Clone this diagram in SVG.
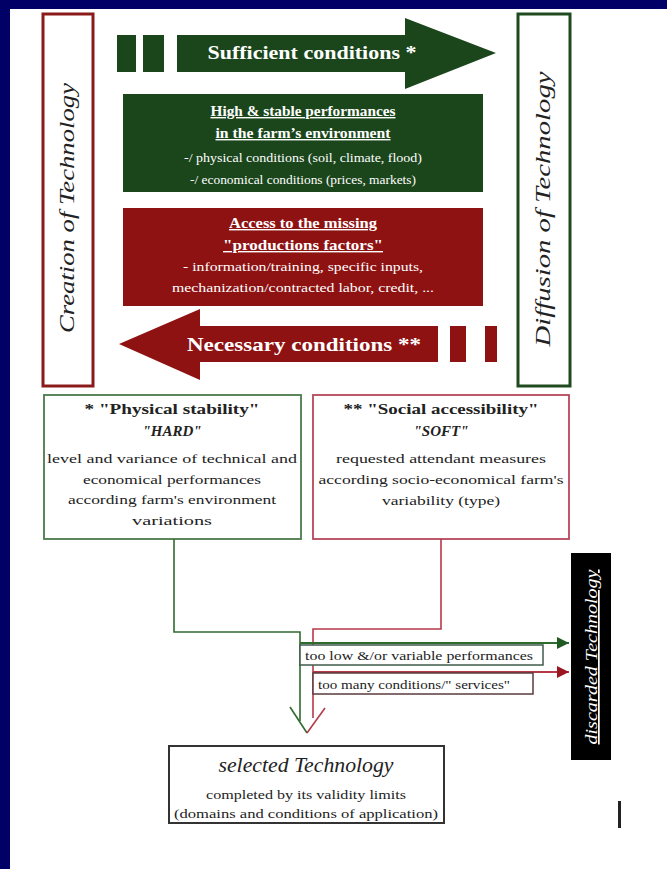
<svg xmlns="http://www.w3.org/2000/svg" width="667" height="869" viewBox="0 0 667 869">
<defs>
<style>
text{font-family:"Liberation Serif","Times New Roman",serif;}
.w{fill:#ffffff;}
.b{font-weight:bold;}
.i{font-style:italic;}
.u{text-decoration:underline;}
.c{text-anchor:middle;}
.k{fill:#222222;}
.gl{fill:none;stroke:#2f6b2f;stroke-width:1.6;}
.rl{fill:none;stroke:#b53a48;stroke-width:1.6;}
</style>
<marker id="ag" viewBox="0 0 10 10" refX="10" refY="5" markerWidth="12" markerHeight="12" markerUnits="userSpaceOnUse" orient="auto"><path d="M0,0 L10,5 L0,10 Z" fill="#1f5a22"/></marker>
<marker id="ar" viewBox="0 0 10 10" refX="10" refY="5" markerWidth="12" markerHeight="12" markerUnits="userSpaceOnUse" orient="auto"><path d="M0,0 L10,5 L0,10 Z" fill="#9a1620"/></marker>
</defs>
<rect x="0" y="0" width="667" height="869" fill="#ffffff"/>
<rect x="0" y="0" width="667" height="9" fill="#000066"/>
<rect x="0" y="0" width="10" height="869" fill="#000066"/>

<g id="creation">
<rect x="43" y="14" width="50" height="372" fill="#ffffff" stroke="#8b1a1a" stroke-width="3"/>
<text class="i k" font-size="22" text-anchor="middle" transform="translate(74,208) rotate(-90)" textLength="250" lengthAdjust="spacingAndGlyphs">Creation of Technology</text>
</g>

<g id="diffusion">
<rect x="518" y="14" width="52" height="372" fill="#ffffff" stroke="#1e4a1e" stroke-width="3"/>
<text class="i k" font-size="22" text-anchor="middle" transform="translate(550,209) rotate(-90)" textLength="275" lengthAdjust="spacingAndGlyphs">Diffusion of Technology</text>
</g>

<g id="sufficient">
<rect x="117" y="35" width="19" height="37" fill="#1b461c"/>
<rect x="143" y="35" width="21" height="37" fill="#1b461c"/>
<path d="M177,35 H405 V18 L496,53 L405,89 V72 H177 Z" fill="#1b461c"/>
<text class="w b c" x="312" y="59" font-size="18" textLength="209" lengthAdjust="spacingAndGlyphs">Sufficient conditions *</text>
</g>

<g id="performances">
<rect x="123" y="94" width="360" height="98" fill="#1b461c"/>
<text class="w b c u" x="303" y="116" font-size="14" textLength="185" lengthAdjust="spacingAndGlyphs">High &amp; stable performances</text>
<text class="w b c u" x="303" y="138" font-size="14" textLength="175" lengthAdjust="spacingAndGlyphs">in the farm’s environment</text>
<text class="w c" x="303" y="162" font-size="12.5" textLength="238" lengthAdjust="spacingAndGlyphs">-/ physical conditions (soil, climate, flood)</text>
<text class="w c" x="303" y="184" font-size="12.5" textLength="226" lengthAdjust="spacingAndGlyphs">-/ economical conditions (prices, markets)</text>
</g>

<g id="factors">
<rect x="123" y="208" width="360" height="98" fill="#8e1212"/>
<text class="w b c u" x="303" y="228" font-size="14" textLength="148" lengthAdjust="spacingAndGlyphs">Access to the missing</text>
<text class="w b c u" x="303" y="250" font-size="14" textLength="160" lengthAdjust="spacingAndGlyphs">"productions factors"</text>
<text class="w c" x="303" y="271" font-size="12.5" textLength="240" lengthAdjust="spacingAndGlyphs">- information/training, specific inputs,</text>
<text class="w c" x="303" y="292" font-size="12.5" textLength="262" lengthAdjust="spacingAndGlyphs">mechanization/contracted labor, credit, ...</text>
</g>

<g id="necessary">
<path d="M119,344 L200,309 V326 H438 V362 H200 V380 Z" fill="#8e1212"/>
<rect x="450" y="326" width="16" height="36" fill="#8e1212"/>
<rect x="485" y="326" width="12" height="36" fill="#8e1212"/>
<text class="w b c" x="304" y="351" font-size="19" textLength="234" lengthAdjust="spacingAndGlyphs">Necessary conditions **</text>
</g>

<g id="hard">
<rect x="44" y="395" width="257" height="144" fill="#ffffff" stroke="#4a7a4a" stroke-width="1.8"/>
<text class="b c k" x="172" y="414" font-size="15" textLength="175" lengthAdjust="spacingAndGlyphs">* "Physical stability"</text>
<text class="b i c k" x="172" y="436" font-size="15">"HARD"</text>
<text class="c k" x="172" y="463" font-size="13.5" textLength="250" lengthAdjust="spacingAndGlyphs">level and variance of technical and</text>
<text class="c k" x="172" y="484" font-size="13.5" textLength="178" lengthAdjust="spacingAndGlyphs">economical performances</text>
<text class="c k" x="172" y="504" font-size="13.5" textLength="208" lengthAdjust="spacingAndGlyphs">according farm's environment</text>
<text class="c k" x="172" y="525" font-size="13.5" textLength="80" lengthAdjust="spacingAndGlyphs">variations</text>
</g>

<g id="soft">
<rect x="313" y="395" width="256" height="144" fill="#ffffff" stroke="#b5485a" stroke-width="1.8"/>
<text class="b c k" x="441" y="414" font-size="15" textLength="195" lengthAdjust="spacingAndGlyphs">** "Social accessibility"</text>
<text class="b i c k" x="441" y="436" font-size="15">"SOFT"</text>
<text class="c k" x="441" y="463" font-size="13.5" textLength="210" lengthAdjust="spacingAndGlyphs">requested attendant measures</text>
<text class="c k" x="441" y="484" font-size="13.5" textLength="245" lengthAdjust="spacingAndGlyphs">according socio-economical farm's</text>
<text class="c k" x="441" y="505" font-size="13.5" textLength="118" lengthAdjust="spacingAndGlyphs">variability (type)</text>
</g>

<g id="connectors">
<path class="gl" d="M174,539 V632 H300 V721"/>
<path class="rl" d="M441,539 V629 H313 V718"/>
<path class="gl" d="M290,707 L307,733"/>
<path class="rl" d="M325,708 L307,733"/>
<path d="M300,643 H569" fill="none" stroke="#2f6b2f" stroke-width="1.8" marker-end="url(#ag)"/>
<path d="M313,672 H569" fill="none" stroke="#b53a48" stroke-width="1.8" marker-end="url(#ar)"/>
</g>

<g id="label-performances">
<rect x="300" y="645" width="243" height="20" fill="#ffffff" stroke="#3f5a4c" stroke-width="1.5"/>
<text class="k" x="305" y="660" font-size="13" textLength="228" lengthAdjust="spacingAndGlyphs">too low &amp;/or variable performances</text>
</g>

<g id="label-services">
<rect x="313" y="673" width="220" height="21" fill="#ffffff" stroke="#5a3a3e" stroke-width="1.5"/>
<text class="k" x="318" y="689" font-size="13" textLength="192" lengthAdjust="spacingAndGlyphs">too many conditions/" services"</text>
</g>

<g id="discarded">
<rect x="571" y="553" width="40" height="207" fill="#000000"/>
<text class="w i u" font-size="17" text-anchor="middle" transform="translate(597,657) rotate(-90)" textLength="175" lengthAdjust="spacingAndGlyphs">discarded Technology</text>
</g>

<g id="selected">
<rect x="169" y="746" width="275" height="77" fill="#ffffff" stroke="#333333" stroke-width="2"/>
<text class="i c k" x="306" y="772" font-size="20" textLength="175" lengthAdjust="spacingAndGlyphs">selected Technology</text>
<text class="c k" x="306" y="799" font-size="13" textLength="200" lengthAdjust="spacingAndGlyphs">completed by its validity limits</text>
<text class="c k" x="306" y="818" font-size="13" textLength="264" lengthAdjust="spacingAndGlyphs">(domains and conditions of application)</text>
</g>

<rect x="618" y="801" width="3" height="27" fill="#222222"/>
</svg>
